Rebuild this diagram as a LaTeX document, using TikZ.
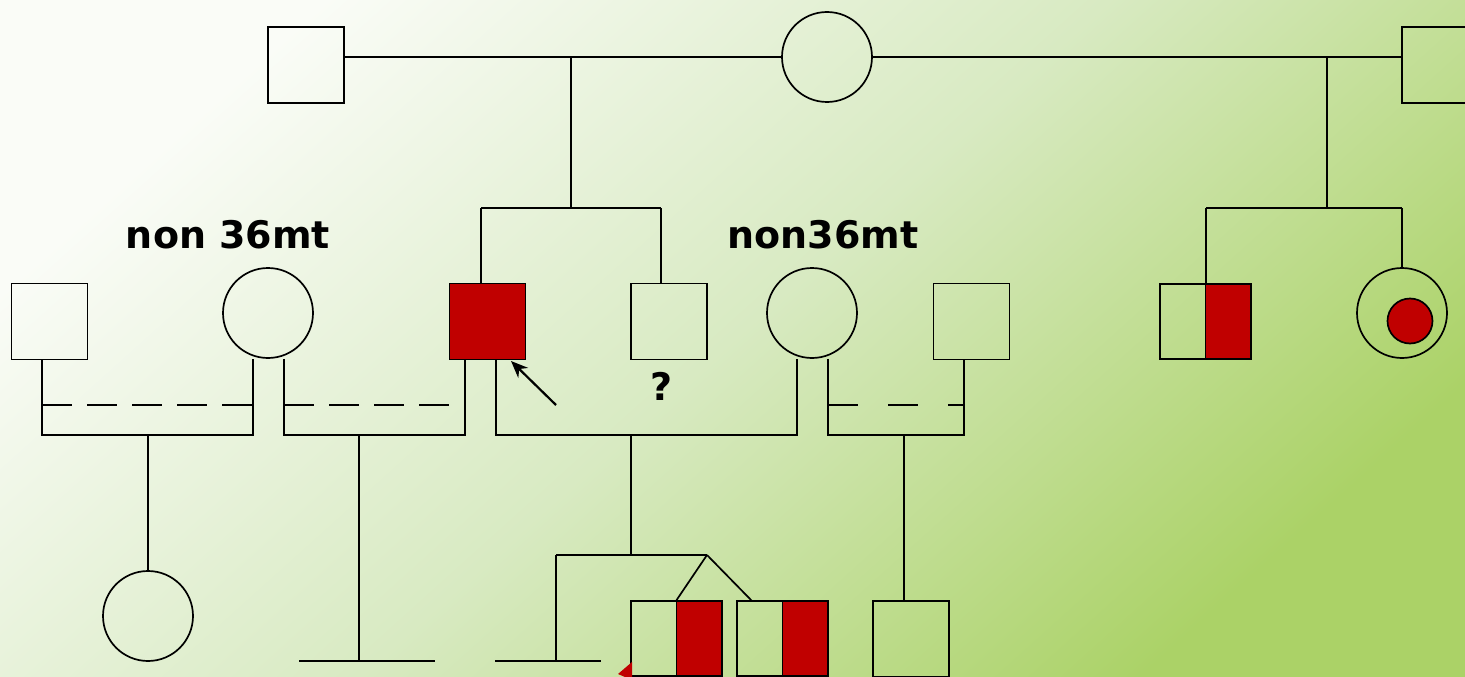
\documentclass[tikz,border=0pt]{standalone}
\usepackage{fontspec}
\setmainfont{DejaVu Sans}
\usetikzlibrary{arrows.meta}
\definecolor{affred}{HTML}{C00000}
\definecolor{bgtop}{HTML}{FAFCF7}
\definecolor{bgmid}{HTML}{D8EAC2}
\definecolor{bgbot}{HTML}{ABD267}
\tikzset{
  % pedigree symbols
  male/.style={draw,rectangle,minimum size=76,inner sep=0},
  female/.style={draw,circle,minimum size=90,inner sep=0},
  affected/.style={male,fill=affred},
  carrier/.style={draw,rectangle,minimum width=91,minimum height=75,inner sep=0,
    path picture={
      \fill[affred] (path picture bounding box.north) rectangle (path picture bounding box.south east);
      \draw (path picture bounding box.north) -- (path picture bounding box.south);
    }},
  reddot/.style={draw,circle,fill=affred,minimum size=45,inner sep=0},
  % marriage with broken line
  broken/.style={dash pattern=on 30 off 15},
  tag/.style={font=\bfseries\fontsize{38}{44}\selectfont,inner sep=0},
}

\begin{document}
\begin{tikzpicture}[x=1pt,y=-1pt,line width=1.7pt]
\useasboundingbox (0,0) rectangle (1465,677);
\clip (0,0) rectangle (1465,677);
\shade[top color=bgtop,bottom color=bgbot,middle color=bgmid,shading angle=42] (0,0) rectangle (1465,677);

% generation I
\node[male] (i1) at (306,65) {};
\node[female] (i2) at (827,57) {};
\node[male] (i3) at (1440,65) {};
\draw (i1.east |- i2) -- (i2.west);
\draw (i2.east) -- (i3.west |- i2);

\coordinate (m12) at (571,57);
\coordinate (s12) at (571,208);
\coordinate (s1l) at (481,208);
\coordinate (s1r) at (661,208);
\coordinate (m23) at (1327,57);
\coordinate (s23) at (1327,208);
\coordinate (s2l) at (1206,208);
\coordinate (s2r) at (1402,208);

% generation II
\node[male] (ii1) at (49.5,321.5) {};
\node[female] (ii2) at (268,313) {};
\node[affected] (ii3) at (487.5,321.5) {};
\node[male] (ii4) at (669,321.5) {};
\node[female] (ii5) at (812,313) {};
\node[male] (ii6) at (971.5,321.5) {};
\node[carrier] (ii7) at (1205.5,321.5) {};
\node[female] (ii8) at (1402,313) {};
\node[reddot] (ii8d) at (1410,321) {};

\node[tag] (t1) at (228,235) {non 36mt};
\node[tag] (t2) at (823,235) {non36mt};
\node[tag] (q) at (662,386) {?};

\draw (m12) -- (s12);
\draw (s1l) -- (s1r);
\draw (s1l) -- (s1l |- ii3.north);
\draw (s1r) -- (s1r |- ii4.north);
\draw (m23) -- (s23);
\draw (s2l) -- (s2r);
\draw (s2l) -- (s2l |- ii7.north);
\draw (s2r) -- (ii8.north);

% proband
\coordinate (pb) at (556,405);
\coordinate (pbtip) at (511,361);
\draw[line width=2.2pt,-{Stealth[length=17,width=14]}] (pb) -- (pbtip);

% marriages of generation II
\coordinate (a1) at (42,435);
\coordinate (a2) at (253,435);
\coordinate (b1) at (284,435);
\coordinate (b2) at (465,435);
\coordinate (c1) at (496,435);
\coordinate (c2) at (797,435);
\coordinate (d1) at (828,435);
\coordinate (d2) at (964,435);
\draw (ii1.south -| a1) -- (a1) -- (a2) -- (a2 |- ii2.south);
\draw (ii2.south -| b1) -- (b1) -- (b2) -- (b2 |- ii3.south);
\draw (ii3.south -| c1) -- (c1) -- (c2) -- (c2 |- ii5.south);
\draw (ii5.south -| d1) -- (d1) -- (d2) -- (d2 |- ii6.south);
\draw[broken] ([yshift=30]a1) -- ([yshift=30]a2);
\draw[broken] ([yshift=30]b1) -- ([yshift=30]b2);
\draw[dash pattern=on 30 off 30] ([yshift=30]d1) -- ([yshift=30]d2);

% generation III
\node[female] (iii1) at (148,616) {};
\node[carrier] (iii3) at (676.5,638.5) {};
\node[carrier] (iii4) at (782.5,638.5) {};
\node[male] (iii5) at (911,639) {};

\coordinate (ca) at (148,435);
\draw (ca) -- (iii1.north);

\coordinate (cb) at (359,435);
\coordinate (cbe) at (359,661);
\coordinate (cbl) at (299,661);
\coordinate (cbr) at (435,661);
\draw (cb) -- (cbe);
\draw (cbl) -- (cbr);

\coordinate (cc) at (631,435);
\coordinate (sc) at (631,555);
\coordinate (scl) at (556,555);
\coordinate (twin) at (707,555);
\coordinate (sce) at (556,661);
\coordinate (scel) at (495,661);
\coordinate (scer) at (601,661);
\draw (cc) -- (sc);
\draw (scl) -- (twin);
\draw (scl) -- (sce);
\draw (scel) -- (scer);
\draw (twin) -- (iii3.north);
\draw (twin) -- (752,601);

\coordinate (cd) at (904,435);
\draw (cd) -- (cd |- iii5.north);

% red tip at the lower edge
\fill[affred] (632,662) -- (618,674) -- (632,680) -- cycle;
\end{tikzpicture}
\end{document}
